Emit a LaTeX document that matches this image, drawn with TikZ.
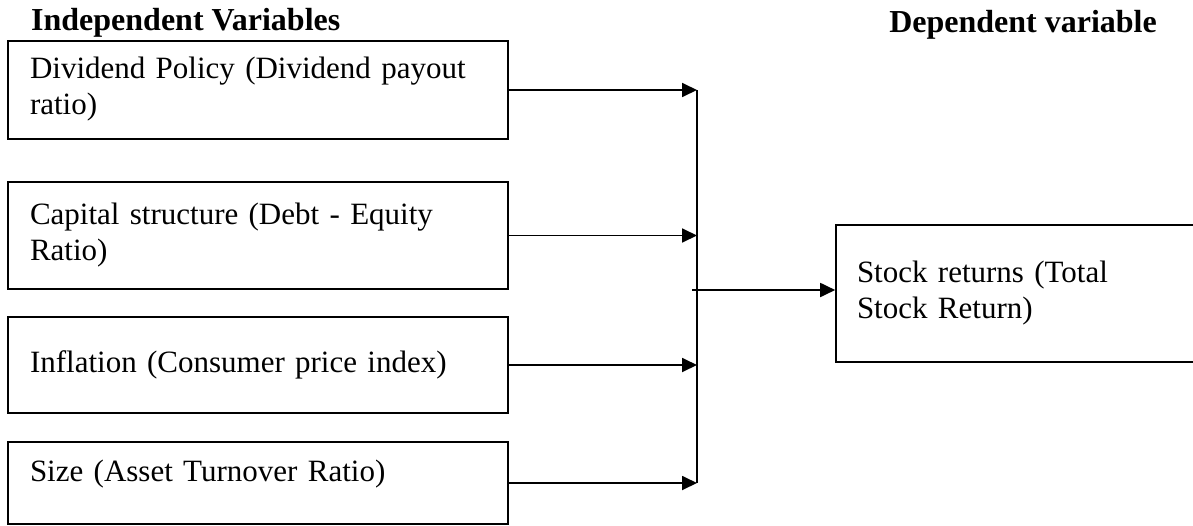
\documentclass[tikz,border=0pt]{standalone}
\usepackage{fontspec}
\setmainfont{Liberation Serif}
\usetikzlibrary{arrows.meta}

\tikzset{
    varbox/.style={draw, line width=1.6pt, align=left, inner xsep=22pt, inner ysep=0pt,
        text width=456pt, minimum width=500pt, font=\fontsize{31}{36}\selectfont},
    head/.style={inner sep=0pt, font=\fontsize{32}{36}\selectfont\bfseries},
    feed/.style={line width=1.8pt, -{Triangle[length=15pt,width=14pt]}}
}

\begin{document}
\begin{tikzpicture}[x=1pt, y=-1pt]
    \useasboundingbox (0, 0) rectangle (1193, 525);
    \clip (0, 0) rectangle (1193, 525);
    \node[head, anchor=base west] (indep) at (31, 30) {Independent Variables};
    \node[head, anchor=base east] (dep) at (1157, 32) {Dependent variable};
    \node[varbox, minimum height=98pt, text depth=44pt] (div) at (258, 90) {Dividend Policy (Dividend payout\\ratio)};
    \node[varbox, minimum height=107pt] (cap) at (258, 235.5) {Capital structure (Debt - Equity\\Ratio)};
    \node[varbox, minimum height=96pt] (inf) at (258, 365) {Inflation (Consumer price index)};
    \node[varbox, minimum height=82pt, text depth=24pt] (size) at (258, 483) {Size (Asset Turnover Ratio)};
    \node[varbox, minimum height=137pt, inner xsep=21pt, text width=338pt, minimum width=380pt]
        (ret) at (1026, 293.5) {Stock returns (Total\\Stock Return)};
    \coordinate (jn) at (697, 290);
    \foreach \v in {div, cap, inf, size}
        \draw[feed] (\v.east) -- (\v.east -| jn);
    \draw[line width=1.8pt] (div.east -| jn) -- (size.east -| jn);
    \draw[feed] ([xshift=-5pt]jn) -- (jn -| ret.west);
\end{tikzpicture}
\end{document}
